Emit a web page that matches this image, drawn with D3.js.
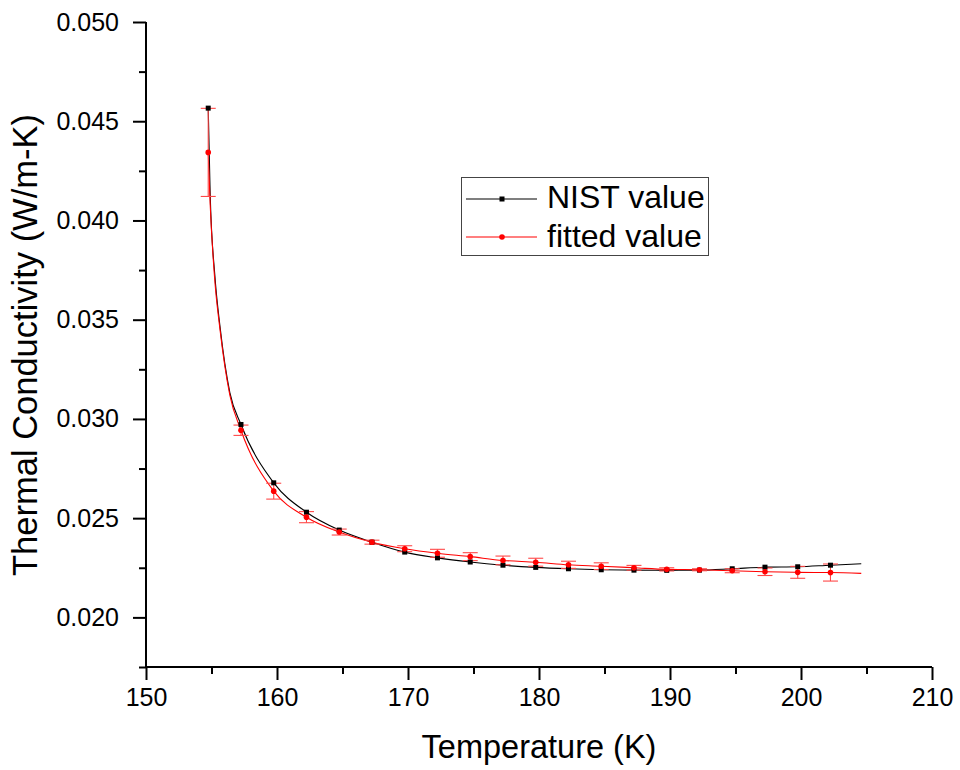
<!DOCTYPE html>
<html>
<head>
<meta charset="utf-8">
<script src="https://cdn.jsdelivr.net/npm/d3@7"></script>
<style>
  html, body { margin: 0; padding: 0; background: #fff; }
  svg { display: block; font-family: Arial, "Liberation Sans", sans-serif; }
</style>
</head>
<body>
<svg id="chart" width="960" height="770"></svg>
<script>
// ---- data ----
const markerT = [154.75, 157.25, 159.75, 162.25, 164.75, 167.25, 169.75, 172.25, 174.75, 177.25,
                 179.75, 182.25, 184.75, 187.25, 189.75, 192.25, 194.75, 197.25, 199.75, 202.25];
const nistValues = [0.04566, 0.02972, 0.02678, 0.02530, 0.02440, 0.02379, 0.02329, 0.02300, 0.02279, 0.02263,
                    0.02252, 0.02245, 0.02240, 0.02238, 0.02237, 0.02238, 0.02245, 0.02253, 0.02255, 0.02263];
const fittedValues = [0.04343, 0.02943, 0.02636, 0.02505, 0.02430, 0.02379, 0.02346, 0.02323, 0.02306, 0.02287,
                      0.02278, 0.02265, 0.02258, 0.02250, 0.02242, 0.02240, 0.02235, 0.02230, 0.02227, 0.02226];
const fittedErrors = [0.00222, 0.00026, 0.00040, 0.00028, 0.00015, 0.00010, 0.00015, 0.00020, 0.00020, 0.00022,
                      0.00020, 0.00018, 0.00017, 0.00012, 0.00008, 0.00005, 0.00010, 0.00019, 0.00030, 0.00043];
// extra line-only points (no symbols)
const lineOnlyT = [154.9, 155.25, 155.65, 156.4, 204.6];
const nistLineOnly = [0.04129, 0.03727, 0.03465, 0.03133, 0.02270];
const fittedLineOnly = [0.04080, 0.03700, 0.03450, 0.03120, 0.02222];

const xTicks = [150, 160, 170, 180, 190, 200, 210];
const xMinorTicks = [155, 165, 175, 185, 195, 205];
const yTicks = [0.020, 0.025, 0.030, 0.035, 0.040, 0.045, 0.050];
const yMinorTicks = [0.0175, 0.0225, 0.0275, 0.0325, 0.0375, 0.0425, 0.0475];
const seriesNames = ["NIST value", "fitted value"];
const xTitle = "Temperature (K)";
const yTitle = "Thermal Conductivity (W/m-K)";

// ---- layout ----
const svg = d3.select("#chart");
const pLeft = 146, pRight = 932, pTop = 22, pBottom = 667;
const x = d3.scaleLinear().domain([150, 210]).range([pLeft, pRight]);
const y = d3.scaleLinear().domain([0.0175, 0.050]).range([pBottom, pTop]);

function curvePoints(vals, extra) {
  const pts = markerT.map((t, i) => [t, vals[i]]).concat(lineOnlyT.map((t, i) => [t, extra[i]]));
  return pts.sort((a, b) => a[0] - b[0]);
}
const line = d3.line().x(d => x(d[0])).y(d => y(d[1])).curve(d3.curveMonotoneX);

// lines
svg.append("path").datum(curvePoints(nistValues, nistLineOnly))
  .attr("d", line).attr("fill", "none").attr("stroke", "#000").attr("stroke-width", 1.1);
svg.append("path").datum(curvePoints(fittedValues, fittedLineOnly))
  .attr("d", line).attr("fill", "none").attr("stroke", "#ff0000").attr("stroke-width", 1.1);

// error bars
const eb = svg.append("g").attr("stroke", "#ff4848").attr("stroke-width", 1.1).attr("fill", "none");
markerT.forEach((t, i) => {
  const cx = x(t), y1 = y(fittedValues[i] + fittedErrors[i]), y2 = y(fittedValues[i] - fittedErrors[i]);
  eb.append("line").attr("x1", cx).attr("x2", cx).attr("y1", y1).attr("y2", y2);
  eb.append("line").attr("x1", cx - 7.5).attr("x2", cx + 7.5).attr("y1", y1).attr("y2", y1);
  eb.append("line").attr("x1", cx - 7.5).attr("x2", cx + 7.5).attr("y1", y2).attr("y2", y2);
});

// markers
svg.append("g").selectAll("rect").data(markerT).join("rect")
  .attr("x", (t) => x(t) - 2.5).attr("y", (t, i) => y(nistValues[i]) - 2.5)
  .attr("width", 5).attr("height", 5).attr("fill", "#000");
svg.append("g").selectAll("circle").data(markerT).join("circle")
  .attr("cx", (t) => x(t)).attr("cy", (t, i) => y(fittedValues[i]))
  .attr("r", 2.8).attr("fill", "#ff0000");

// axes
const xAxis = svg.append("g").attr("transform", `translate(0,${pBottom})`)
  .call(d3.axisBottom(x).tickValues(xTicks).tickSize(13).tickPadding(8).tickFormat(d3.format("d")));
svg.append("g").attr("transform", `translate(0,${pBottom})`)
  .call(d3.axisBottom(x).tickValues(xMinorTicks).tickSize(7).tickFormat(""))
  .call(g => g.select(".domain").remove());
const yAxis = svg.append("g").attr("transform", `translate(${pLeft},0)`)
  .call(d3.axisLeft(y).tickValues(yTicks).tickSize(13).tickPadding(14).tickFormat(d3.format(".3f")));
svg.append("g").attr("transform", `translate(${pLeft},0)`)
  .call(d3.axisLeft(y).tickValues(yMinorTicks).tickSize(7).tickFormat(""))
  .call(g => g.select(".domain").remove());

svg.selectAll(".domain").attr("stroke", "#000").attr("stroke-width", 2);
svg.selectAll(".tick line").attr("stroke", "#000").attr("stroke-width", 2);
svg.selectAll(".tick text").attr("font-size", 25).attr("fill", "#000")
  .attr("font-family", "Arial, 'Liberation Sans', sans-serif");
xAxis.select(".domain").attr("d", `M${pLeft},0H${pRight}`);
yAxis.select(".domain").attr("d", `M0,${pBottom}V${pTop}`);

// titles
svg.append("text").attr("x", 539).attr("y", 758)
  .attr("text-anchor", "middle").attr("font-size", 32.5).text(xTitle);
svg.append("text").attr("transform", `translate(37,345) rotate(-90)`)
  .attr("text-anchor", "middle").attr("font-size", 34.5).text(yTitle);

// legend
const lg = svg.append("g");
lg.append("rect").attr("x", 461.5).attr("y", 177.5).attr("width", 247).attr("height", 78)
  .attr("fill", "#fff").attr("stroke", "#444").attr("stroke-width", 1);
const legendRows = [
  { name: seriesNames[0], color: "#000", shape: "square", y: 199, text: 207.5 },
  { name: seriesNames[1], color: "#ff0000", shape: "circle", y: 237, text: 246.5 }
];
legendRows.forEach(r => {
  lg.append("line").attr("x1", 466).attr("x2", 537).attr("y1", r.y).attr("y2", r.y)
    .attr("stroke", r.color).attr("stroke-width", 1.1);
  if (r.shape === "square") {
    lg.append("rect").attr("x", 499.5).attr("y", r.y - 2.5).attr("width", 5).attr("height", 5).attr("fill", r.color);
  } else {
    lg.append("circle").attr("cx", 502).attr("cy", r.y).attr("r", 2.8).attr("fill", r.color);
  }
  lg.append("text").attr("x", 547).attr("y", r.text).attr("font-size", 32).text(r.name);
});
</script>
</body>
</html>
